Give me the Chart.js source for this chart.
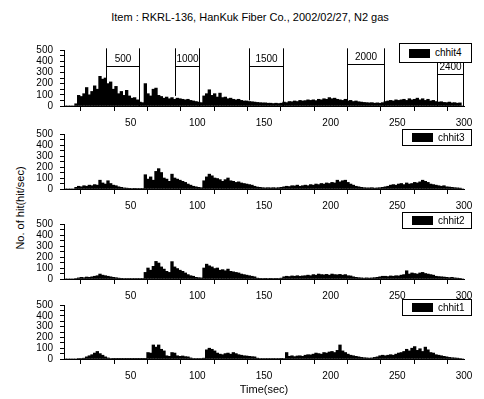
<!DOCTYPE html>
<html><head><meta charset="utf-8">
<script src="https://cdn.jsdelivr.net/npm/chart.js@4/dist/chart.umd.min.js"></script>
<style>
body{margin:0;background:#fff;width:484px;height:399px;overflow:hidden;position:relative;font-family:'Liberation Sans',Arial,sans-serif;color:#000}
canvas{position:absolute;left:0}
.title{position:absolute;top:11px;left:0;width:500px;text-align:center;font-size:11px;line-height:13px}
.ytitle{position:absolute;left:-60px;top:201px;width:160px;height:14px;line-height:14px;text-align:center;font-size:11px;transform:rotate(-90deg);transform-origin:50% 50%}
.lg{position:absolute;box-sizing:border-box;border:1px solid #000;background:#fff;font-size:10px}
.lg span.sw{position:absolute;background:#000}
.lg span.tx{position:absolute;line-height:12px}
</style></head><body>
<div class="title">Item : RKRL-136, HanKuk Fiber Co., 2002/02/27, N2 gas</div>
<div class="ytitle">No. of hit(hit/sec)</div>
<canvas id="c1"></canvas><canvas id="c2"></canvas><canvas id="c3"></canvas><canvas id="c4"></canvas>
<div class="lg" style="left:399px;top:43px;width:73px;height:20px"><span class="sw" style="left:9px;top:5px;width:21px;height:9px"></span><span class="tx" style="left:35px;top:3px">chhit4</span></div>
<div class="lg" style="left:402px;top:129px;width:70px;height:17px"><span class="sw" style="left:9px;top:3px;width:21px;height:9px"></span><span class="tx" style="left:35px;top:2px">chhit3</span></div>
<div class="lg" style="left:402px;top:212px;width:70px;height:17px"><span class="sw" style="left:9px;top:3px;width:21px;height:9px"></span><span class="tx" style="left:35px;top:2px">chhit2</span></div>
<div class="lg" style="left:402px;top:299px;width:70px;height:17px"><span class="sw" style="left:9px;top:3px;width:21px;height:9px"></span><span class="tx" style="left:35px;top:2px">chhit1</span></div>
<script>
// time bins: 2-second bins centred at 1,3,...,299 s
const binWidth = 2;
const chhit4 = [
0,0,0,0,20,95,85,110,165,100,
130,180,150,265,240,250,200,215,150,175,
110,130,95,140,90,70,75,55,35,30,
200,110,90,150,160,95,85,70,80,65,
75,60,70,65,60,55,60,50,45,40,
35,30,90,110,145,95,110,80,115,75,
80,65,70,60,55,60,50,45,45,40,
38,35,32,30,28,28,25,25,22,25,
22,25,35,30,40,38,45,40,50,45,
48,55,50,55,48,60,55,65,60,75,
65,70,60,55,50,60,45,50,40,45,
38,35,32,30,28,30,25,28,25,30,
40,45,50,45,55,50,55,60,50,65,
55,60,70,55,65,50,60,45,50,40,
35,38,32,30,35,28,30,25,28,0];
const chhit3 = [
0,0,0,0,15,25,20,30,25,35,
30,40,35,80,55,45,75,50,35,30,
20,15,10,8,6,5,6,5,4,5,
130,90,110,80,160,185,150,100,90,70,
135,100,90,80,70,60,45,35,25,20,
15,12,75,110,135,120,100,95,85,70,
85,100,75,70,60,65,55,50,45,40,
35,25,18,15,12,10,12,10,12,10,
12,15,20,25,22,30,28,35,25,30,
35,30,40,35,45,40,50,45,55,50,
60,55,80,65,75,80,60,45,35,25,
20,15,12,10,10,12,8,10,12,15,
20,25,35,40,35,45,50,40,55,45,
50,60,55,65,80,70,60,45,40,35,
30,25,30,20,18,15,12,10,8,0];
const chhit2 = [
0,0,0,0,5,10,15,12,18,15,
20,25,30,45,35,30,25,20,15,12,
8,6,5,5,4,5,5,4,5,5,
60,100,80,115,160,145,110,90,70,60,
158,110,95,80,70,55,40,30,25,15,
12,10,100,135,120,110,95,100,80,85,
75,90,70,65,60,55,45,40,35,30,
25,20,8,6,5,6,5,6,5,6,
5,8,20,25,22,28,25,30,25,28,
30,35,30,40,35,45,40,38,42,35,
45,40,38,42,35,40,30,28,20,15,
12,10,8,10,8,10,12,15,20,25,
25,22,28,25,30,28,35,40,75,45,
55,50,45,55,60,50,45,40,35,25,
22,20,18,15,12,15,10,8,6,0];
const chhit1 = [
0,0,0,0,0,5,5,8,20,30,
40,55,70,50,35,20,10,5,3,2,
2,2,2,2,2,2,2,2,2,2,
3,60,55,130,110,130,90,75,30,25,
60,55,30,25,28,22,20,10,5,5,
5,5,8,85,100,90,75,55,45,40,
50,55,45,60,50,40,35,30,28,25,
22,20,8,5,5,5,4,5,4,5,
5,6,5,60,25,30,22,28,30,25,
35,40,38,45,55,50,45,60,55,65,
70,60,80,130,75,60,45,35,30,25,
20,15,12,10,8,10,15,20,30,35,
30,35,40,35,45,55,60,70,90,75,
100,115,80,95,70,110,85,60,55,40,
35,30,25,20,15,12,10,8,5,0];
const seriesNames = ['chhit4','chhit3','chhit2','chhit1'];
const xTickLabels = [50,100,150,200,250,300];
const yTickLabels = [0,100,200,300,400,500];
// pressure-step brackets on top panel (seconds / hit level)
const bracketLabels = ['500','1000','1500','2000','2400'];
const bracketStart = [31.7,83.2,138.8,212.6,279.4];
const bracketEnd = [56.2,101.2,164.3,239.9,299.4];
const bracketLevel = [358,358,358,371,282];
const bracketLeftBottom = [240,90,50,35,0];
const bracketTop = 515;

Chart.defaults.font.family = "'Liberation Sans', Arial, sans-serif";
Chart.defaults.font.size = 10;
Chart.defaults.color = '#000';

const bracketPlugin = {
  id:'brackets',
  afterDatasetsDraw(chart){
    const {ctx, scales:{x,y}} = chart;
    ctx.save();
    ctx.strokeStyle='#000'; ctx.lineWidth=1; ctx.fillStyle='#000';
    ctx.font="10px 'Liberation Sans', Arial, sans-serif";
    ctx.textAlign='center'; ctx.textBaseline='bottom';
    bracketLabels.forEach((lab,i)=>{
      const x1=Math.round(x.getPixelForValue(bracketStart[i]))+0.5;
      const x2=Math.round(x.getPixelForValue(bracketEnd[i]))+0.5;
      const yt=y.getPixelForValue(bracketTop);
      const yl=Math.round(y.getPixelForValue(bracketLevel[i]))+0.5;
      const yb1=y.getPixelForValue(bracketLeftBottom[i]);
      const yb2=y.getPixelForValue(0);
      ctx.beginPath();
      ctx.moveTo(x1,yt); ctx.lineTo(x1,yb1);
      ctx.moveTo(x2,yt); ctx.lineTo(x2,yb2);
      ctx.moveTo(x1,yl); ctx.lineTo(x2,yl);
      ctx.stroke();
      ctx.fillText(lab,(x1+x2)/2,yl-2);
    });
    ctx.restore();
  }
};

const panels = [
  {id:'c1', data:chhit4, top:45, bottom:106, hx:28, brackets:true},
  {id:'c2', data:chhit3, top:129, bottom:189, hx:28},
  {id:'c3', data:chhit2, top:219, bottom:279, hx:28},
  {id:'c4', data:chhit1, top:300, bottom:359, hx:38, xtitle:true}
];
const padTop = 8;
panels.forEach((p,k)=>{
  const cv = document.getElementById(p.id);
  const h = padTop + (p.bottom - p.top) + p.hx;
  cv.width = 484; cv.height = h;
  cv.style.top = (p.top - padTop) + 'px';
  const pts = p.data.map((v,i)=>({x: i*binWidth + binWidth/2, y: v}));
  new Chart(cv, {
    type:'bar',
    data:{datasets:[{label:seriesNames[k], data:pts, backgroundColor:'#000', borderWidth:0, barPercentage:1, categoryPercentage:1}]},
    options:{
      responsive:false, animation:false, devicePixelRatio:1,
      layout:{padding:{left:0,right:20,top:padTop,bottom:0}},
      plugins:{legend:{display:false}, tooltip:{enabled:false}},
      scales:{
        x:{type:'linear', min:0, max:300, offset:false,
          afterFit:s=>{s.height=p.hx;},
          ticks:{stepSize:25, autoSkip:false, maxRotation:0, padding:6,
            callback:v=> xTickLabels.includes(v) ? String(v) : ''},
          grid:{display:true, drawOnChartArea:false, drawTicks:true, tickLength:5, color:'#000'},
          border:{display:true, color:'#000', width:1},
          title:{display:!!p.xtitle, text:'Time(sec)', font:{size:11}, padding:{top:0,bottom:0}}
        },
        y:{min:0, max:500,
          afterFit:s=>{s.width=64;},
          ticks:{stepSize:50, autoSkip:false, padding:7,
            callback:v=> yTickLabels.includes(v) ? String(v) : ''},
          grid:{display:true, drawOnChartArea:false, drawTicks:true, tickLength:4, color:'#000'},
          border:{display:true, color:'#000', width:1}
        }
      }
    },
    plugins: p.brackets ? [bracketPlugin] : []
  });
});
</script>
</body></html>
